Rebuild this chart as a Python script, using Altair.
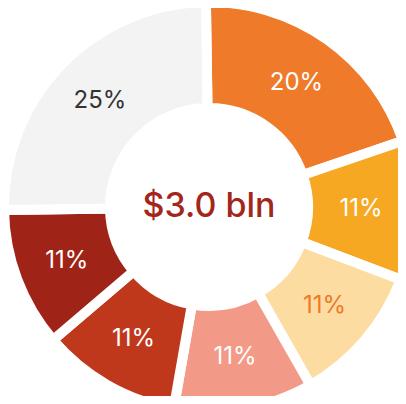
import altair as alt
import pandas as pd
import math

categories = ["A", "B", "C", "D", "E", "F", "G"]
shares = [20, 11, 11, 11, 11, 11, 25]
labels = ["20%", "11%", "11%", "11%", "11%", "11%", "25%"]
fill_colors = ["#EE7A2A", "#F7A823", "#FDDCA2", "#F29A87", "#C0381C", "#A02318", "#F3F3F3"]
text_colors = ["#FFFFFF", "#FFFFFF", "#EE7A2A", "#FFFFFF", "#FFFFFF", "#FFFFFF", "#333333"]
center_text = "$3.0 bln"

CX, CY = 201, 199
ROT = -0.015

df = pd.DataFrame({
    "cat": categories,
    "share": shares,
    "label": labels,
    "idx": list(range(len(categories))),
})

base = alt.Chart(df).encode(
    theta=alt.Theta("share:Q", stack=True, scale=alt.Scale(range=[ROT, 2 * math.pi + ROT])),
    order=alt.Order("idx:Q"),
    x=alt.value(CX),
    y=alt.value(CY),
)

arcs = base.mark_arc(innerRadius=99, outerRadius=205, stroke="white", strokeWidth=10).encode(
    color=alt.Color("cat:N", scale=alt.Scale(domain=categories, range=fill_colors), legend=None)
)

texts = base.mark_text(radius=152, fontSize=24, font="Inter").encode(
    text="label:N",
    color=alt.Color("cat:N", scale=alt.Scale(domain=categories, range=text_colors), legend=None),
)

center = alt.Chart(pd.DataFrame({"t": [center_text]})).mark_text(
    fontSize=34, font="Inter", fontWeight=500, color="#A3261B"
).encode(text="t:N", x=alt.value(CX), y=alt.value(CY))

chart = alt.layer(arcs, texts, center).resolve_scale(color="independent").properties(
    width=390, height=388, padding=0, autosize=alt.AutoSizeParams(type="none")
).configure_view(stroke=None)

chart.save("out.html", embed_options={"renderer": "svg", "actions": False})
